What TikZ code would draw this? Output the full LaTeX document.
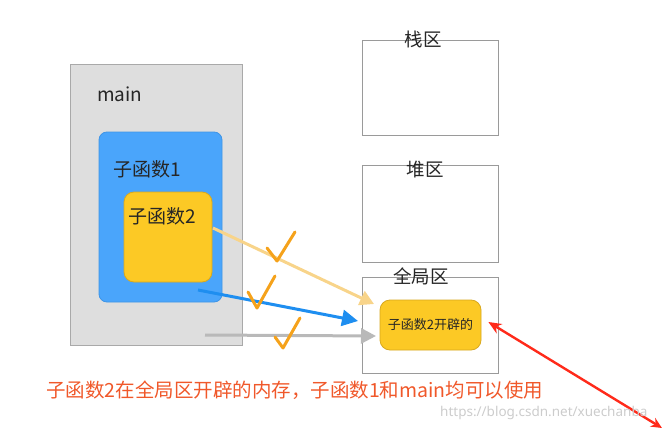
\documentclass[tikz,border=0pt]{standalone}
\usepackage{fontspec}
\setmainfont{Noto Sans CJK SC}
\newfontfamily\wmfont{Noto Sans}
\usetikzlibrary{arrows.meta}
\definecolor{boxgray}{HTML}{DEDEDE}
\definecolor{boxgrayline}{HTML}{A9A9A9}
\definecolor{funcblue}{HTML}{4AA5FB}
\definecolor{funcblueline}{HTML}{3F95E6}
\definecolor{funcyellow}{HTML}{FCC925}
\definecolor{funcyellowline}{HTML}{D9A81E}
\definecolor{arryellow}{HTML}{F8D48A}
\definecolor{arrblue}{HTML}{1E8EF0}
\definecolor{arrgray}{HTML}{B9B9B9}
\definecolor{checkorange}{HTML}{F5A21B}
\definecolor{redarrow}{HTML}{FF2A1A}
\definecolor{redtext}{HTML}{F0582A}
\definecolor{memline}{HTML}{9A9A9A}
\tikzset{
  mainbox/.style={draw=boxgrayline, fill=boxgray, line width=1pt, inner sep=0pt},
  bluebox/.style={draw=funcblueline, fill=funcblue, rounded corners=8pt, line width=0.8pt, inner sep=0pt},
  yellowbox/.style={draw=funcyellowline, fill=funcyellow, rounded corners=10pt, line width=0.8pt, inner sep=0pt},
  membox/.style={draw=memline, fill=white, line width=0.8pt, inner sep=0pt},
  lbl/.style={font=\fontsize{19}{21}\selectfont, text=black!85, inner sep=0pt},
  memlbl/.style={font=\fontsize{18.5}{20}\selectfont, text=black!85, inner sep=0pt},
  checkmark/.style={draw=checkorange, line width=3pt, line cap=round, line join=round},
  conn/.style={line width=3pt},
}
\begin{document}
\begin{tikzpicture}[x=1pt, y=-1pt]
\useasboundingbox (0,0) rectangle (671,433);
% main
\node[mainbox, minimum width=172pt, minimum height=280pt] (main) at (156,205) {};
\node[lbl, anchor=west] (mainlbl) at (97,94) {main};
% sub 1
\node[bluebox, minimum width=123pt, minimum height=170pt] (f1) at (160.5,217) {};
\node[lbl, anchor=west] (f1lbl) at (113,169) {子函数1};
% sub 2
\node[yellowbox, minimum width=88pt, minimum height=90pt] (f2) at (168,237) {};
\node[lbl, anchor=west] (f2lbl) at (128,216) {子函数2};
% memory areas
\node[membox, minimum width=136pt, minimum height=95pt] (stack) at (430,87.5) {};
\node[memlbl] (stacklbl) at (423,39) {栈区};
\node[membox, minimum width=136pt, minimum height=97pt] (heap) at (430,213.5) {};
\node[memlbl] (heaplbl) at (425,170) {堆区};
\node[membox, minimum width=136pt, minimum height=96pt] (global) at (430,325) {};
\node[memlbl] (globallbl) at (421,276) {全局区};
\node[yellowbox, minimum width=101pt, minimum height=50pt,
      font=\fontsize{13}{15}\selectfont, text=black!85] (g2) at (430.5,325) {子函数2开辟的};
% connector end points
\coordinate (ys) at (213,228);
\coordinate (ye) at (374,304);
\coordinate (bs) at (198,290);
\coordinate (be) at (358,321);
\coordinate (gs) at (205,335);
\coordinate (ge) at (376,336);
\coordinate (rs) at (662,428);
\draw[conn, arryellow, -{Triangle[length=14pt,width=15pt]}] (ys) -- (ye);
\draw[conn, arrblue, -{Triangle[length=16pt,width=16pt]}] (bs) -- (be);
\draw[conn, arrgray, -{Triangle[length=15pt,width=15pt]}] (gs) -- (ge);
% check marks
\draw[checkmark] (267,248) -- (277,261) -- (295,232);
\draw[checkmark] (248,292) -- (257,308) -- (275,276);
\draw[checkmark] (275,337) -- (283,348) -- (300,318);
% red arrow
\draw[redarrow, line width=2.4pt, {Stealth[length=13pt,width=11pt]}-{Stealth[length=11pt,width=10pt]}] (g2.east) ++(7,-3) coordinate (re) (re) -- (rs);
% texts
\node[anchor=west, text=redtext, font=\fontsize{19.5}{21}\selectfont, inner sep=0pt] (note) at (46,390) {子函数2在全局区开辟的内存，子函数1和main均可以使用};
\node[anchor=west, text=black!20, font=\wmfont\fontsize{13.5}{15}\selectfont, inner sep=0pt] (wm) at (440,413) {https://blog.csdn.net/xuechanba};
\end{tikzpicture}
\end{document}
